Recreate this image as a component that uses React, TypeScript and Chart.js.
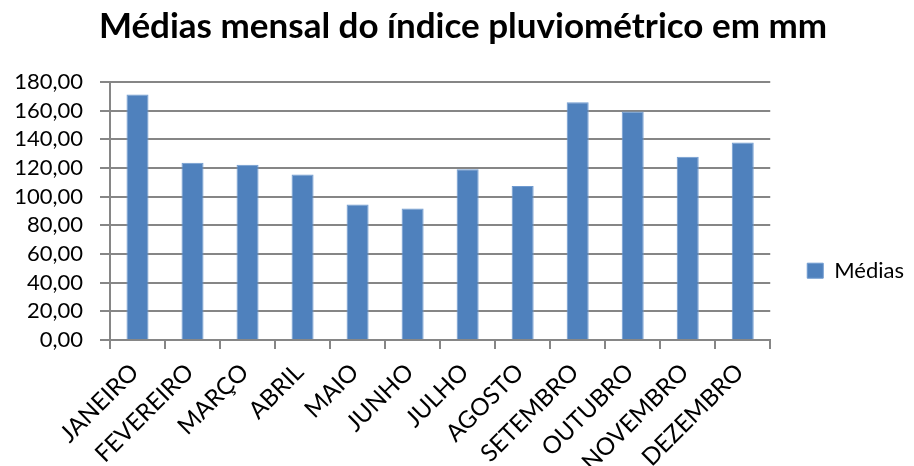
import React, { useEffect, useRef } from "react";
import { Chart, registerables } from "chart.js";

Chart.register(...registerables);

const categories = [
  "JANEIRO", "FEVEREIRO", "MARÇO", "ABRIL", "MAIO", "JUNHO",
  "JULHO", "AGOSTO", "SETEMBRO", "OUTUBRO", "NOVEMBRO", "DEZEMBRO",
];
const medias = [171.2, 123.7, 122.3, 115.4, 94.5, 91.7, 119.1, 107.5, 165.9, 159.4, 127.9, 137.8];
const seriesName = "Médias";
const titleText = "Médias mensal do índice pluviométrico em mm";
const yMin = 0;
const yMax = 180;
const yStep = 20;

const FONT = "Lato, 'Open Sans', sans-serif";
const GRID = "#868686";
const BAR = "#4F81BD";

export default function App() {
  const ref = useRef<HTMLCanvasElement | null>(null);
  useEffect(() => {
    document.body.style.margin = "0";
    const ctx = ref.current!;
    const chart = new Chart(ctx, {
      type: "bar",
      data: {
        labels: categories,
        datasets: [
          {
            label: seriesName,
            data: medias,
            backgroundColor: BAR,
            borderColor: "#6F9AD0",
            borderWidth: 1,
            categoryPercentage: 1,
            barPercentage: 0.4,
          },
        ],
      },
      options: {
        responsive: false,
        animation: false,
        layout: { padding: { left: 12, right: 0, top: 0, bottom: 0 } },
        plugins: {
          title: {
            display: true,
            text: titleText,
            color: "#000",
            font: { family: FONT, size: 35, weight: "bold" },
            padding: { top: 6, bottom: 34 },
          },
          legend: {
            position: "right",
            title: {
              display: true,
              text: "",
              padding: { top: 61, bottom: 0 },
            },
            labels: {
              color: "#000",
              font: { family: FONT, size: 22 },
              boxWidth: 16,
              boxHeight: 15,
              padding: 37,
            },
          },
          tooltip: { enabled: false },
        },
        scales: {
          x: {
            afterFit: (scale: any) => {
              scale.paddingLeft = 0;
              scale.paddingRight = 0;
              scale.height = 126;
            },
            grid: {
              display: true,
              drawOnChartArea: false,
              drawTicks: true,
              tickLength: 9,
              color: GRID,
              lineWidth: 2,
            },
            border: { color: GRID, width: 2 },
            ticks: {
              color: "#000",
              font: { family: FONT, size: 24 },
              minRotation: 45,
              maxRotation: 45,
              autoSkip: false,
              padding: 9,
              labelOffset: -3,
            },
          },
          y: {
            min: yMin,
            max: yMax,
            afterFit: (scale: any) => {
              scale.width = 98;
            },
            grid: {
              color: GRID,
              lineWidth: 2,
              tickLength: 10,
            },
            border: { color: GRID, width: 2 },
            ticks: {
              stepSize: yStep,
              autoSkip: false,
              color: "#000",
              font: { family: FONT, size: 22 },
              padding: 17,
              callback: (v: any) => Number(v).toFixed(2).replace(".", ","),
            },
          },
        },
      },
    });
    return () => chart.destroy();
  }, []);
  return (
    <div style={{ position: "absolute", left: 0, top: 0, width: 914, height: 466, background: "#fff" }}>
      <canvas ref={ref} width={914} height={466} />
    </div>
  );
}
